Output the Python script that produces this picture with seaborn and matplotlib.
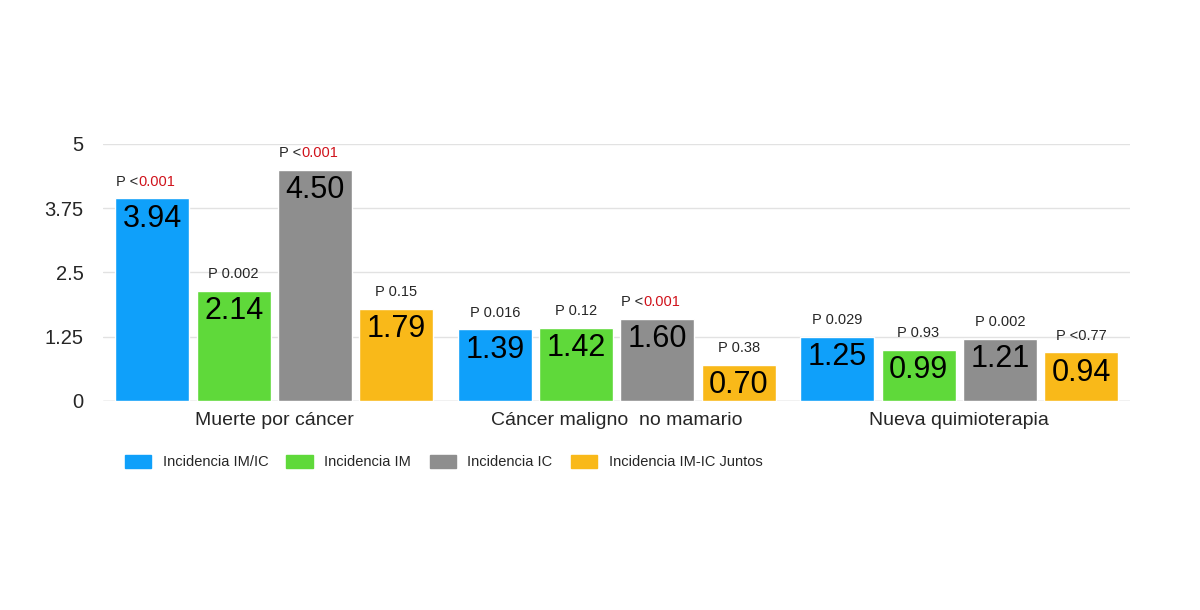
import pandas as pd
import seaborn as sns
import matplotlib.pyplot as plt

# --- Data ---
categories = ["Muerte por cáncer", "Cáncer maligno  no mamario", "Nueva quimioterapia"]
series = ["Incidencia IM/IC", "Incidencia IM", "Incidencia IC", "Incidencia IM-IC Juntos"]
values = {
    "Incidencia IM/IC": [3.94, 1.39, 1.25],
    "Incidencia IM": [2.14, 1.42, 0.99],
    "Incidencia IC": [4.50, 1.60, 1.21],
    "Incidencia IM-IC Juntos": [1.79, 0.70, 0.94],
}
p_prefix = {
    "Incidencia IM/IC": ["P <", "P", "P"],
    "Incidencia IM": ["P", "P", "P"],
    "Incidencia IC": ["P <", "P <", "P"],
    "Incidencia IM-IC Juntos": ["P", "P", "P <"],
}
p_value = {
    "Incidencia IM/IC": ["0.001", "0.016", "0.029"],
    "Incidencia IM": ["0.002", "0.12", "0.93"],
    "Incidencia IC": ["0.001", "0.001", "0.002"],
    "Incidencia IM-IC Juntos": ["0.15", "0.38", "0.77"],
}
p_red = {
    "Incidencia IM/IC": [True, False, False],
    "Incidencia IM": [False, False, False],
    "Incidencia IC": [True, True, False],
    "Incidencia IM-IC Juntos": [False, False, False],
}
colors = ["#0FA0FA", "#5FD93A", "#8E8E8E", "#F9B919"]
yticks = [0, 1.25, 2.5, 3.75, 5]

rows = []
for s in series:
    for c, v in zip(categories, values[s]):
        rows.append({"Categoria": c, "Serie": s, "Valor": v})
df = pd.DataFrame(rows)

sns.set_style("white")
plt.rcParams["font.family"] = ["Liberation Sans", "DejaVu Sans"]

fig = plt.figure(figsize=(12, 6.1), dpi=100)
ax = fig.add_axes([0.086, 0.343, 0.856, 0.421])

sns.barplot(data=df, x="Categoria", y="Valor", hue="Serie", order=categories,
            hue_order=series, palette=colors, width=0.95, gap=0.09,
            saturation=1, ax=ax, legend=False)

ax.set_ylim(0, 5)
ax.set_xlim(-0.5, 2.5)
ax.set_yticks(yticks)
ax.set_yticklabels(["0", "1.25", "2.5", "3.75", "5"], fontsize=14.5)
ax.yaxis.grid(True, color="#E2E2E2", linewidth=1)
ax.axhline(0, color="#D0D0D0", linewidth=1, zorder=0)
ax.set_axisbelow(True)
for sp in ax.spines.values():
    sp.set_visible(False)
ax.tick_params(axis="y", length=0, pad=14)
ax.tick_params(axis="x", length=0, labelsize=14, pad=8)
ax.set_xlabel("")
ax.set_ylabel("")

# value labels inside bars and p-values above
for s, cont in zip(series, ax.containers):
    for i, bar in enumerate(cont):
        x = bar.get_x() + bar.get_width() / 2
        h = bar.get_height()
        ax.annotate(f"{values[s][i]:.2f}", xy=(x, h), xytext=(0, -4),
                    textcoords="offset points", ha="center", va="top",
                    fontsize=22, color="black")
        prefix = p_prefix[s][i]
        num = p_value[s][i]
        if p_red[s][i]:
            t = ax.annotate(prefix, xy=(x, h), xytext=(-18, 7),
                            textcoords="offset points", ha="center",
                            va="bottom", fontsize=10.5)
            ax.annotate(num, xy=(1, 0), xycoords=t, ha="left", va="bottom",
                        fontsize=10.5, color="#D0121B")
        else:
            ax.annotate(f"{prefix} {num}" if prefix == "P" else f"{prefix}{num}",
                        xy=(x, h), xytext=(0, 7), textcoords="offset points",
                        ha="center", va="bottom", fontsize=10.5)

handles = [plt.Rectangle((0, 0), 1, 1, color=c) for c in colors]
fig.legend(handles, series, loc="center left", bbox_to_anchor=(0.093, 0.243),
           ncol=4, frameon=False, fontsize=10.5, handlelength=1.8,
           handleheight=1.0, handletextpad=0.8, columnspacing=1.25)

fig.savefig("out.png", dpi=100, facecolor="white")
